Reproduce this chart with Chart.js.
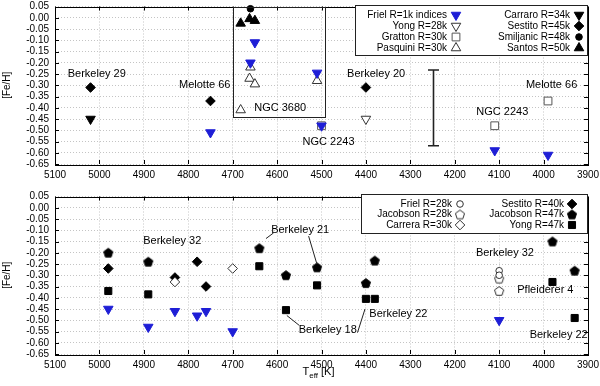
<!DOCTYPE html>
<html><head><meta charset="utf-8">
<script src="https://cdn.jsdelivr.net/npm/chart.js@4/dist/chart.umd.min.js"></script>
<style>
html,body{margin:0;padding:0;background:#fff;width:600px;height:386px;overflow:hidden}
canvas{position:absolute;left:0}
#c1{top:0}#c2{top:190px}
</style>
</head><body>
<canvas id="c1" width="600" height="190" style="width:600px;height:190px"></canvas>
<canvas id="c2" width="600" height="196" style="width:600px;height:196px"></canvas>
<script>
// ---------- axes ----------
const tempMin = 3900, tempMax = 5100, tempStep = 100;
const feMin = -0.65, feMax = 0.05, feStep = 0.05;

// ---------- top panel series (Teff, [Fe/H]) ----------
const frielLowT  = [4750, 4650, 4660, 4510, 4500, 4110, 3990];
const frielLowFe = [-0.51, -0.11, -0.20, -0.245, -0.48, -0.59, -0.61];
const yong28T  = [4400];
const yong28Fe = [-0.45];
const grattonT  = [4500, 4110, 3990];
const grattonFe = [-0.48, -0.48, -0.37];
const pasquiniT  = [4660, 4662, 4650, 4682, 4510];
const pasquiniFe = [-0.22, -0.27, -0.295, -0.41, -0.28];
const carraroT  = [5020];
const carraroFe = [-0.45];
const sestito45T  = [5020, 4750, 4400];
const sestito45Fe = [-0.31, -0.37, -0.31];
const smiljanicT  = [4660];
const smiljanicFe = [0.04];
const santosT  = [4682, 4662, 4650];
const santosFe = [-0.025, -0.005, -0.013];

// top panel annotations
const topLabelText = ['Berkeley 29', 'Melotte 66', 'NGC 3680', 'Berkeley 20', 'NGC 2243', 'NGC 2243', 'Melotte 66'];
const topLabelT    = [5006, 4763, 4593, 4377, 4484, 4093, 3982];
const topLabelFe   = [-0.25, -0.30, -0.40, -0.25, -0.55, -0.42, -0.30];
const insetBoxT  = [4700, 4491];
const insetBoxFe = [0.05, -0.439];
const errBarT  = 4250;
const errBarFe = [-0.232, -0.569];

// ---------- bottom panel series ----------
const friel28T  = [4100, 4100];
const friel28Fe = [-0.28, -0.30];
const jac28T  = [4100, 4100];
const jac28Fe = [-0.315, -0.37];
const carreraT  = [4830, 4700];
const carreraFe = [-0.33, -0.27];
const sestito40T  = [4980, 4830, 4780, 4760];
const sestito40Fe = [-0.27, -0.31, -0.24, -0.35];
const jac47T  = [4980, 4890, 4640, 4580, 4510, 4400, 4380, 3980, 3930];
const jac47Fe = [-0.20, -0.24, -0.18, -0.30, -0.265, -0.335, -0.235, -0.15, -0.28];
const yong47T  = [4980, 4890, 4640, 4580, 4510, 4400, 4380, 3980, 3930];
const yong47Fe = [-0.37, -0.385, -0.26, -0.455, -0.345, -0.405, -0.405, -0.33, -0.49];
const frielLowBT  = [4980, 4890, 4830, 4780, 4760, 4700, 4100];
const frielLowBFe = [-0.45, -0.53, -0.46, -0.48, -0.46, -0.55, -0.50];

const botLabelText = ['Berkeley 32', 'Berkeley 21', 'Berkeley 18', 'Berkeley 22', 'Berkeley 32', 'Pfleiderer 4', 'Berkeley 22'];
const botLabelT    = [4836, 4548, 4486, 4327, 4087, 3996, 3966];
const botLabelFe   = [-0.148, -0.097, -0.545, -0.47, -0.20, -0.366, -0.564];
// leader lines [T1, Fe1, T2, Fe2]
const leaderLines = [
  [4625, -0.137, 4608, -0.112],
  [4529, -0.126, 4511, -0.246],
  [4578, -0.479, 4550, -0.523],
  [4419, -0.555, 4402, -0.450]
];

// ---------- styling ----------
const FONT = "'Liberation Sans', Arial, Helvetica, sans-serif";
Chart.defaults.font.family = FONT;
Chart.defaults.font.size = 10;
Chart.defaults.color = '#000';
const BLUE = '#1e1ed6';
const DARK = '#333';

function pentagon(fill, stroke) {
  const c = document.createElement('canvas');
  c.width = 12; c.height = 12;
  const g = c.getContext('2d');
  const r = 4.8, cx = 6, cy = 6.4;
  g.beginPath();
  for (let i = 0; i < 5; i++) {
    const a = -Math.PI / 2 + i * 2 * Math.PI / 5;
    const px = cx + r * Math.cos(a), py = cy + r * Math.sin(a);
    i ? g.lineTo(px, py) : g.moveTo(px, py);
  }
  g.closePath();
  g.fillStyle = fill; g.fill();
  g.strokeStyle = stroke; g.lineWidth = 1; g.stroke();
  return c;
}

const st = {
  frielLow:  {pointStyle: 'triangle', rotation: 180, radius: 5.5, bg: BLUE, bc: BLUE, bw: 1},
  yong28:    {pointStyle: 'triangle', rotation: 180, radius: 5.5, bg: '#fff', bc: DARK, bw: 1},
  gratton:   {pointStyle: 'rect', rotation: 0, radius: 5.5, bg: 'rgba(255,255,255,0)', bc: '#555', bw: 1},
  pasquini:  {pointStyle: 'triangle', rotation: 0, radius: 5.5, bg: '#fff', bc: DARK, bw: 1},
  carraro:   {pointStyle: 'triangle', rotation: 180, radius: 5.5, bg: '#000', bc: '#000', bw: 1},
  sestito:   {pointStyle: 'rectRot', rotation: 0, radius: 4.8, bg: '#000', bc: '#000', bw: 1},
  smiljanic: {pointStyle: 'circle', rotation: 0, radius: 3.3, bg: '#000', bc: '#000', bw: 1},
  santos:    {pointStyle: 'triangle', rotation: 0, radius: 5.5, bg: '#000', bc: '#000', bw: 1},
  friel28:   {pointStyle: 'circle', rotation: 0, radius: 3.3, bg: '#fff', bc: DARK, bw: 1},
  jac28:     {pointStyle: pentagon('#fff', DARK), rotation: 0, radius: 5, bg: '#fff', bc: DARK, bw: 1},
  carrera:   {pointStyle: 'rectRot', rotation: 0, radius: 4.8, bg: '#fff', bc: DARK, bw: 1},
  jac47:     {pointStyle: pentagon('#000', '#000'), rotation: 0, radius: 5, bg: '#000', bc: '#000', bw: 1},
  yong47:    {pointStyle: 'rect', rotation: 0, radius: 5, bg: '#000', bc: '#000', bw: 1}
};

function ds(label, T, Fe, s) {
  return {
    label,
    data: T.map((t, i) => ({x: t, y: Fe[i]})),
    pointStyle: s.pointStyle, rotation: s.rotation, pointRotation: s.rotation,
    pointRadius: s.radius, pointHoverRadius: s.radius,
    pointBackgroundColor: s.bg, pointBorderColor: s.bc, pointBorderWidth: s.bw,
    showLine: false, clip: false
  };
}

function drawMarker(ctx, s, x, y) {
  ctx.save();
  ctx.fillStyle = s.bg; ctx.strokeStyle = s.bc; ctx.lineWidth = s.bw;
  const r = s.radius, ps = s.pointStyle;
  if (typeof ps === 'object') { ctx.drawImage(ps, x - ps.width / 2, y - ps.height / 2); ctx.restore(); return; }
  ctx.beginPath();
  if (ps === 'circle') ctx.arc(x, y, r, 0, 2 * Math.PI);
  else if (ps === 'rect') { const h = r * Math.SQRT1_2; ctx.rect(x - h, y - h, 2 * h, 2 * h); }
  else if (ps === 'rectRot') { ctx.moveTo(x, y - r); ctx.lineTo(x + r, y); ctx.lineTo(x, y + r); ctx.lineTo(x - r, y); ctx.closePath(); }
  else if (ps === 'triangle') {
    const rot = s.rotation * Math.PI / 180;
    for (let k = 0; k < 3; k++) {
      const a = rot + k * 2 * Math.PI / 3;
      const px = x + Math.sin(a) * r, py = y - Math.cos(a) * r;
      k ? ctx.lineTo(px, py) : ctx.moveTo(px, py);
    }
    ctx.closePath();
  }
  ctx.fill(); ctx.stroke();
  ctx.restore();
}

const framePlugin = {
  id: 'frame',
  afterDatasetsDraw(chart) {
    const {ctx, chartArea: a, scales: {x, y}} = chart;
    ctx.save();
    ctx.strokeStyle = '#000'; ctx.lineWidth = 1;
    ctx.beginPath();
    const L = 4;
    x.ticks.forEach(t => {
      const px = Math.round(x.getPixelForValue(t.value)) + 0.5;
      ctx.moveTo(px, a.top); ctx.lineTo(px, a.top + L);
      ctx.moveTo(px, a.bottom); ctx.lineTo(px, a.bottom - L);
    });
    y.ticks.forEach(t => {
      const py = Math.round(y.getPixelForValue(t.value)) + 0.5;
      ctx.moveTo(a.left, py); ctx.lineTo(a.left + L, py);
      ctx.moveTo(a.right, py); ctx.lineTo(a.right - L, py);
    });
    ctx.stroke();
    ctx.strokeRect(Math.round(a.left) + 0.5, Math.round(a.top) + 0.5, Math.round(a.right - a.left), Math.round(a.bottom - a.top));
    ctx.restore();
  }
};

function labelsPlugin(id, texts, Ts, Fes, extra) {
  return {
    id,
    afterDatasetsDraw(chart) {
      const {ctx, scales: {x, y}} = chart;
      ctx.save();
      ctx.font = '11px ' + FONT;
      ctx.fillStyle = '#000';
      ctx.textAlign = 'center'; ctx.textBaseline = 'middle';
      texts.forEach((t, i) => ctx.fillText(t, x.getPixelForValue(Ts[i]), y.getPixelForValue(Fes[i])));
      ctx.restore();
      if (extra) extra(chart);
    }
  };
}

function legendPlugin(id, box, rows, textRight, markerX, cols) {
  return {
    id,
    afterDatasetsDraw(chart) {
      const ctx = chart.ctx;
      ctx.save();
      ctx.fillStyle = '#fff';
      ctx.fillRect(box[0], box[1], box[2], box[3]);
      ctx.strokeStyle = '#222'; ctx.lineWidth = 1;
      ctx.strokeRect(box[0] + 0.5, box[1] + 0.5, box[2], box[3]);
      ctx.font = '10px ' + FONT;
      ctx.fillStyle = '#000';
      ctx.textAlign = 'right'; ctx.textBaseline = 'middle';
      cols.forEach((col, c) => col.forEach((e, r) => {
        ctx.fillStyle = '#000';
        ctx.fillText(e[0], textRight[c], rows[r]);
        drawMarker(ctx, e[1], markerX[c], rows[r]);
      }));
      ctx.restore();
    }
  };
}

function baseOptions(padTop, xHeight) {
  return {
    responsive: false, animation: false, events: [],
    layout: {padding: {left: 0, right: 12, top: padTop, bottom: 0}},
    plugins: {legend: {display: false}, tooltip: {enabled: false}},
    scales: {
      x: {
        type: 'linear', reverse: true, min: tempMin, max: tempMax,
        ticks: {stepSize: tempStep, callback: v => String(v), padding: 5, maxRotation: 0, autoSkip: false, color: '#000', font: {size: 10}},
        grid: {color: '#c4c4c4', drawTicks: false, lineWidth: 1},
        border: {display: false, dash: [1, 2]},
        afterFit(s) { s.height = xHeight; s.paddingLeft = 0; s.paddingRight = 0; }
      },
      y: {
        type: 'linear', min: feMin, max: feMax,
        ticks: {stepSize: feStep, callback: v => Math.abs(v) < 1e-9 ? '0.00' : v.toFixed(2), padding: 6, autoSkip: false, color: '#000', font: {size: 10}},
        grid: {color: '#c4c4c4', drawTicks: false, lineWidth: 1},
        border: {display: false, dash: [1, 2]},
        title: {display: true, text: '[Fe/H]', color: '#000', font: {size: 10}, padding: {top: 1, bottom: 0}},
        afterFit(s) { s.width = 55; s.paddingTop = 0; s.paddingBottom = 0; }
      }
    }
  };
}

// ---------- top chart ----------
const topExtra = chart => {
  const {ctx, scales: {x, y}} = chart;
  ctx.save();
  ctx.strokeStyle = '#222'; ctx.lineWidth = 1;
  const x1 = Math.round(x.getPixelForValue(insetBoxT[0])) + 0.5, x2 = Math.round(x.getPixelForValue(insetBoxT[1])) + 0.5;
  const y1 = Math.round(y.getPixelForValue(insetBoxFe[0])) + 0.5, y2 = Math.round(y.getPixelForValue(insetBoxFe[1])) + 0.5;
  ctx.strokeRect(x1, y1, x2 - x1, y2 - y1);
  const ex = Math.round(x.getPixelForValue(errBarT)) + 0.5;
  const ey1 = y.getPixelForValue(errBarFe[0]), ey2 = y.getPixelForValue(errBarFe[1]);
  ctx.lineWidth = 1.6;
  ctx.beginPath();
  ctx.moveTo(ex, ey1); ctx.lineTo(ex, ey2);
  ctx.moveTo(ex - 5.5, ey1); ctx.lineTo(ex + 5.5, ey1);
  ctx.moveTo(ex - 5.5, ey2); ctx.lineTo(ex + 5.5, ey2);
  ctx.stroke();
  ctx.restore();
};

new Chart(document.getElementById('c1'), {
  type: 'scatter',
  data: {datasets: [
    ds('Smiljanic R=48k', smiljanicT, smiljanicFe, st.smiljanic),
    ds('Santos R=50k', santosT, santosFe, st.santos),
    ds('Friel R=1k indices', frielLowT, frielLowFe, st.frielLow),
    ds('Gratton R=30k', grattonT, grattonFe, st.gratton),
    ds('Pasquini R=30k', pasquiniT, pasquiniFe, st.pasquini),
    ds('Yong R=28k', yong28T, yong28Fe, st.yong28),
    ds('Carraro R=34k', carraroT, carraroFe, st.carraro),
    ds('Sestito R=45k', sestito45T, sestito45Fe, st.sestito)
  ]},
  options: baseOptions(5, 26),
  plugins: [
    framePlugin,
    labelsPlugin('toplabels', topLabelText, topLabelT, topLabelFe, topExtra),
    legendPlugin('toplegend', [355, 5, 232, 50], [15, 26, 37, 48], [447, 570], [456, 579], [
      [['Friel R=1k indices', st.frielLow], ['Yong R=28k', st.yong28], ['Gratton R=30k', st.gratton], ['Pasquini R=30k', st.pasquini]],
      [['Carraro R=34k', st.carraro], ['Sestito R=45k', st.sestito], ['Smiljanic R=48k', st.smiljanic], ['Santos R=50k', st.santos]]
    ])
  ]
});

// ---------- bottom chart ----------
const botExtra = chart => {
  const {ctx, chartArea: a, scales: {x, y}} = chart;
  ctx.save();
  ctx.strokeStyle = '#222'; ctx.lineWidth = 1;
  ctx.beginPath();
  leaderLines.forEach(l => {
    ctx.moveTo(x.getPixelForValue(l[0]), y.getPixelForValue(l[1]));
    ctx.lineTo(x.getPixelForValue(l[2]), y.getPixelForValue(l[3]));
  });
  ctx.stroke();
  // x-axis title: T_eff [K]
  const cx = (a.left + a.right) / 2 - 3;
  const ty = 182;
  ctx.fillStyle = '#000';
  ctx.textBaseline = 'middle'; ctx.textAlign = 'left';
  ctx.font = '11px ' + FONT;
  const wT = ctx.measureText('T').width, wK = ctx.measureText(' [K]').width;
  ctx.font = '8px ' + FONT;
  const wE = ctx.measureText('eff').width;
  let sx = cx - (wT + wE + wK) / 2;
  ctx.font = '11px ' + FONT; ctx.fillText('T', sx, ty); sx += wT;
  ctx.font = '8px ' + FONT; ctx.fillText('eff', sx, ty + 4); sx += wE;
  ctx.font = '11px ' + FONT; ctx.fillText(' [K]', sx, ty);
  ctx.restore();
};

new Chart(document.getElementById('c2'), {
  type: 'scatter',
  data: {datasets: [
    ds('Friel R=28k', friel28T, friel28Fe, st.friel28),
    ds('Jacobson R=28k', jac28T, jac28Fe, st.jac28),
    ds('Carrera R=30k', carreraT, carreraFe, st.carrera),
    ds('Sestito R=40k', sestito40T, sestito40Fe, st.sestito),
    ds('Jacobson R=47k', jac47T, jac47Fe, st.jac47),
    ds('Yong R=47k', yong47T, yong47Fe, st.yong47),
    ds('Friel R=1k indices', frielLowBT, frielLowBFe, st.frielLow)
  ]},
  options: baseOptions(4, 32),
  plugins: [
    framePlugin,
    labelsPlugin('botlabels', botLabelText, botLabelT, botLabelFe, botExtra),
    legendPlugin('botlegend', [361, 4, 226, 39], [14, 24.5, 35], [452, 564], [460, 572], [
      [['Friel R=28k', st.friel28], ['Jacobson R=28k', st.jac28], ['Carrera R=30k', st.carrera]],
      [['Sestito R=40k', st.sestito], ['Jacobson R=47k', st.jac47], ['Yong R=47k', st.yong47]]
    ])
  ]
});
</script>
</body></html>
